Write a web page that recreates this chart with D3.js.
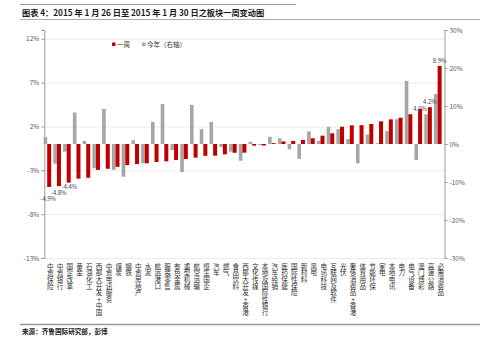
<!DOCTYPE html>
<html>
<head>
<meta charset="utf-8">
<script src="https://cdn.jsdelivr.net/npm/d3@7"></script>
<style>
  body { margin: 0; background: #fff; }
  svg { display: block; }
  text { font-family: "Noto Sans CJK SC", "Liberation Sans", sans-serif; }
</style>
</head>
<body>
<svg id="chart" width="500" height="341"></svg>
<script>
// Sector names (x axis)
const categories = [
  "中资保险", "中资银行", "国企改革", "黄金", "石油化工", "西部大开发+中国", "中资电讯服务",
  "煤炭", "钢铁", "中资房地产", "水泥", "航运港口", "服装零售", "有色金属", "重型机械",
  "航空运输", "恒生国企", "汽车", "燃气", "食品饮料", "西部大开发+香港", "文化传媒",
  "本地及国际性银行", "汽车经销", "医药保健", "国际性保险", "新材料", "风电", "电讯科技",
  "互联网及软件", "光伏", "奢侈消费品+香港", "体育用品", "节能环保", "家电", "本地电讯",
  "电力", "电气设备", "澳门博彩", "高速公路", "必需消费品"
];

// 一周 change, % (left axis)
const weekChange = [
  -4.9, -4.8, -4.4, -3.95, -3.85, -2.95, -2.83, -2.6, -2.4, -2.28, -2.2, -2.05, -1.98, -1.82,
  -1.71, -1.56, -1.35, -1.33, -1.18, -1.0, -0.99, -0.19, -0.17, 0.1, 0.3, 0.34, 0.46, 0.65,
  0.95, 1.22, 1.97, 2.13, 2.15, 2.28, 2.59, 2.81, 3.0, 3.39, 4.0, 4.2, 8.9
];

// 今年 change, % (right axis)
const ytdChange = [
  1.8, -5.2, -2.0, 8.3, 0.8, -6.4, 9.2, -6.8, -8.6, 1.0, -5.1, 5.8, 10.5, -1.6,
  -7.4, 10.3, 3.9, 5.8, -0.8, -2.0, -4.4, 0.6, -0.3, 1.9, 1.5, -1.4, -3.9, 3.3,
  0.8, 4.5, 3.9, 1.3, -5.1, 2.5, 0.2, 3.4, 6.5, 16.6, -4.2, 7.8, 13.2
];

// Bars whose weekly change is printed
const labelledSectors = ["中资保险", "中资银行", "国企改革", "澳门博彩", "高速公路", "必需消费品"];

const leftTicks = [-13, -8, -3, 2, 7, 12];
const rightTicks = [-30, -20, -10, 0, 10, 20, 30];
const seriesNames = ["一周", "今年（右轴）"];

const title = "图表 4：2015 年 1 月 26 日至 2015 年 1 月 30 日之板块一周变动图";
const source = "来源：齐鲁国际研究部，彭博";

const RED = "#C00000", GRAY = "#A6A6A6";
const svg = d3.select("#chart");

const plot = { left: 44.3, right: 444.5, top: 30, bottom: 258 };

const x = d3.scaleBand().domain(categories).range([plot.left, plot.right]).paddingInner(0).paddingOuter(0);
const yL = d3.scaleLinear().domain([-13, 13]).range([plot.bottom, plot.top]);
const yR = d3.scaleLinear().domain([-30, 30]).range([plot.bottom, plot.top]);

// header rules and title
svg.append("line").attr("x1", 20).attr("x2", 296).attr("y1", 4.5).attr("y2", 4.5)
  .attr("stroke", "#999").attr("stroke-width", 1);
svg.append("text").attr("x", 22).attr("y", 15.5).attr("font-size", 8.2).attr("font-weight", "bold")
  .attr("fill", "#1a1a1a").text(title);
svg.append("line").attr("x1", 20).attr("x2", 480).attr("y1", 19.5).attr("y2", 19.5)
  .attr("stroke", "#999").attr("stroke-width", 0.8);

// gridlines on left ticks
svg.append("g").selectAll("line").data(leftTicks).join("line")
  .attr("x1", plot.left).attr("x2", plot.right)
  .attr("y1", d => yL(d) + 0.5).attr("y2", d => yL(d) + 0.5)
  .attr("stroke", "#ececec").attr("stroke-width", 1);

// axes
const axL = d3.axisLeft(yL).tickValues(leftTicks).tickSize(3).tickPadding(2).tickFormat(d => d + "%");
const axR = d3.axisRight(yR).tickValues(rightTicks).tickSize(3).tickPadding(2).tickFormat(d => d + "%");

const gL = svg.append("g").attr("transform", `translate(${plot.left},0)`).call(axL);
const gR = svg.append("g").attr("transform", `translate(${plot.right},0)`).call(axR);
[gL, gR].forEach(g => {
  g.select(".domain").attr("stroke", "#9a9a9a");
  g.selectAll(".tick line").attr("stroke", "#9a9a9a");
  g.selectAll(".tick text").attr("font-size", 6.5).attr("fill", "#595959")
    .attr("font-family", "'Liberation Sans', sans-serif");
});

// bars
const bw = x.bandwidth();
const cx = c => x(c) + bw / 2;

svg.append("g").selectAll("rect").data(categories).join("rect")
  .attr("x", c => cx(c) - 5.6)
  .attr("width", 3.6)
  .attr("y", (c, i) => Math.min(yR(ytdChange[i]), yR(0)))
  .attr("height", (c, i) => Math.abs(yR(ytdChange[i]) - yR(0)))
  .attr("fill", GRAY);

svg.append("g").selectAll("rect").data(categories).join("rect")
  .attr("x", c => cx(c) - 2)
  .attr("width", 4)
  .attr("y", (c, i) => Math.min(yL(weekChange[i]), yL(0)))
  .attr("height", (c, i) => Math.abs(yL(weekChange[i]) - yL(0)))
  .attr("fill", RED);

// value labels: placed past the bar end, then staggered so neighbours stay readable
const labels = categories.map((c, i) => ({ c, v: weekChange[i] }))
  .filter(d => labelledSectors.includes(d.c))
  .map(d => ({ ...d, x: cx(d.c), y: d.v < 0 ? yL(d.v) + 6 : yL(d.v) - 3 }));
for (let k = labels.length - 2; k >= 0; k--) {
  const a = labels[k], b = labels[k + 1];
  if (Math.sign(a.v) !== Math.sign(b.v) || b.x - a.x > 16) continue;
  if (a.v < 0) { if (a.y - b.y < 6.4) a.y = b.y + 6.4; a.x -= 1; b.x += 0.75; }
  else { if (a.y - b.y < 6.5) a.y = b.y + 6.5; }
}
svg.append("g").selectAll("text").data(labels).join("text")
  .attr("x", d => d.x)
  .attr("y", d => d.y)
  .attr("text-anchor", "middle")
  .attr("font-size", 5.9).attr("fill", "#404040")
  .attr("font-family", "'Liberation Sans', sans-serif")
  .text(d => d.v.toFixed(1) + "%");

// category labels, vertical
svg.append("g").selectAll("text").data(categories).join("text")
  .attr("x", c => cx(c) + 1.2)
  .attr("y", 263)
  .attr("font-size", 6.6)
  .attr("fill", "#333")
  .style("writing-mode", "vertical-rl")
  .style("text-orientation", "upright")
  .text(c => c);

// legend
const legend = svg.append("g").attr("transform", "translate(112,0)");
[RED, GRAY].forEach((col, i) => {
  const ox = i === 0 ? 0 : 30;
  legend.append("rect").attr("x", ox).attr("y", 42.5).attr("width", 3.5).attr("height", 3.5).attr("fill", col);
  legend.append("text").attr("x", ox + 5).attr("y", 47).attr("font-size", 6.5).attr("fill", "#333")
    .text(seriesNames[i]);
});

// footer
svg.append("line").attr("x1", 20).attr("x2", 480).attr("y1", 324.5).attr("y2", 324.5)
  .attr("stroke", "#999").attr("stroke-width", 1.6);
svg.append("text").attr("x", 22).attr("y", 334).attr("font-size", 6.6).attr("font-weight", "bold")
  .attr("fill", "#1a1a1a").text(source);
</script>
</body>
</html>
